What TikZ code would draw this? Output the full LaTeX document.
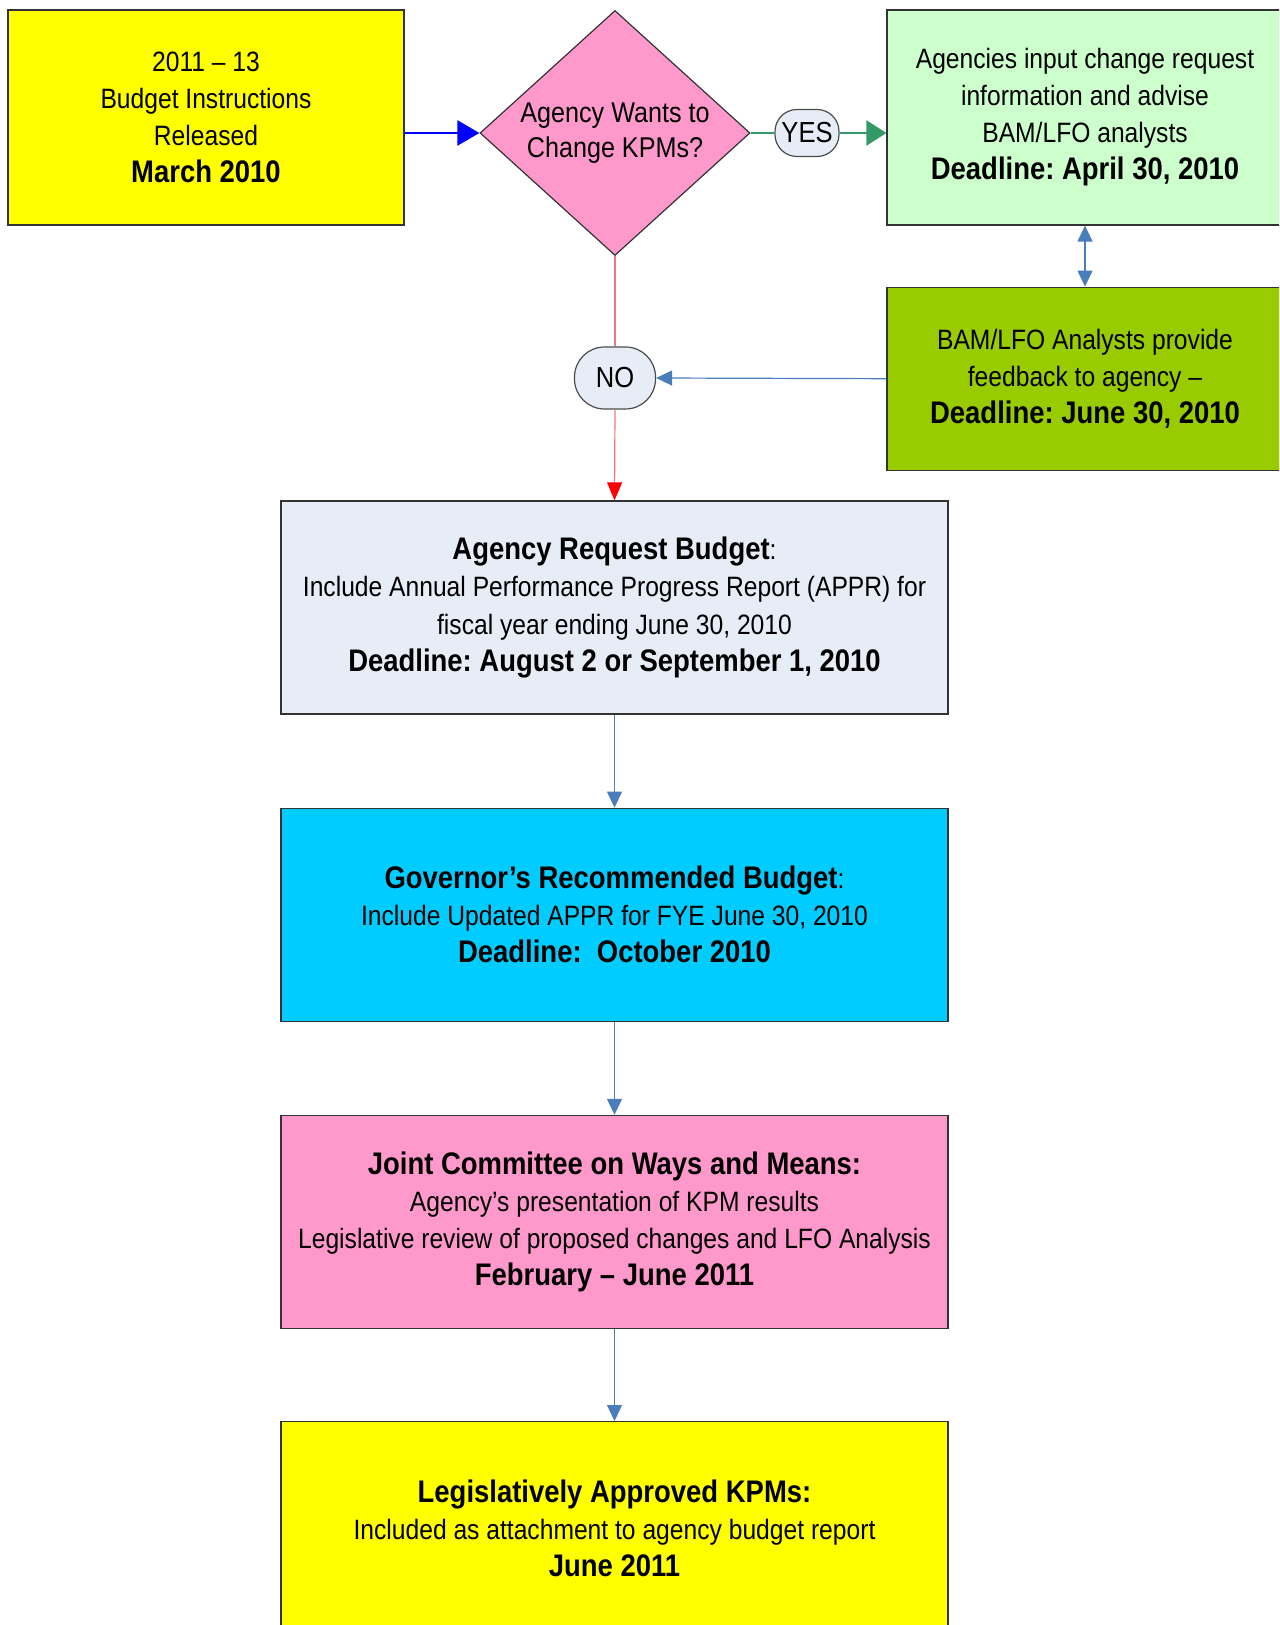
\documentclass[tikz,border=0pt]{standalone}
\usepackage{fontspec}
\setmainfont{Liberation Sans}[FakeStretch=0.88]
\usetikzlibrary{arrows.meta, positioning, shapes.geometric}
\frenchspacing

\definecolor{kpmyellow}{HTML}{FFFF00}
\definecolor{kpmpink}{HTML}{FF99CC}
\definecolor{kpmmint}{HTML}{CCFFCC}
\definecolor{kpmlime}{HTML}{99CC00}
\definecolor{kpmcyan}{HTML}{00CCFF}
\definecolor{kpmpale}{HTML}{E7EDF7}
\definecolor{kpmblue}{HTML}{4A7EBB}
\definecolor{kpmgreen}{HTML}{339966}
\definecolor{kpmsalmon}{HTML}{F07878}

\newcommand{\keyline}[1]{{\fontsize{15.6}{19}\selectfont\bfseries #1}}

\begin{document}
\begin{tikzpicture}[x=0.5pt, y=-0.5pt,
  stage/.style={rectangle, draw=black!80, line width=0.6pt, align=center,
                font=\fontsize{14}{18.5}\selectfont, inner sep=2pt},
  wide/.style={stage, minimum width=333.5pt, minimum height=106.5pt},
  side/.style={stage, minimum width=198pt, minimum height=107.5pt},
  decision/.style={diamond, draw=black!80, line width=0.6pt, fill=kpmpink, align=center,
                   font=\fontsize{14.3}{17.5}\selectfont, inner sep=0pt, shape aspect=1.15,
                   minimum width=135pt, minimum height=122.5pt},
  answer/.style={rectangle, rounded corners=11pt, draw=black!70, line width=0.6pt,
                 fill=kpmpale, font=\fontsize{14.5}{17}\selectfont, inner sep=0pt},
  flow/.style={draw=kpmblue, line width=0.6pt, -{Triangle[length=8pt, width=7.5pt]}}
]
  \clip (0,0) rectangle (1279,1625);

  % top row
  \node[side, fill=kpmyellow] (release) at (206,117.5)
    {2011 -- 13\\Budget Instructions\\Released\\\keyline{March 2010}};
  \node[decision] (decide) at (615,133) {Agency Wants to\\Change KPMs?};
  \node[answer, minimum width=32pt, minimum height=23.5pt] (yes) at (807,133) {YES};
  \node[side, fill=kpmmint] (input) at (1085,117.5)
    {Agencies input change request\\information and advise\\BAM/LFO analysts\\\keyline{Deadline: April 30, 2010}};
  \node[side, fill=kpmlime, minimum height=91.5pt, below=30.5pt of input] (feedback)
    {BAM/LFO Analysts provide\\feedback to agency --\\\keyline{Deadline: June 30, 2010}};
  \node[answer, rounded corners=15pt, minimum width=40.5pt, minimum height=31pt] (no) at (615,378) {NO};

  % main column
  \node[wide, fill=kpmpale] (request) at (614.5,607.5)
    {\keyline{Agency Request Budget}:\\Include Annual Performance Progress Report (APPR) for\\fiscal year ending June 30, 2010\\\keyline{Deadline: August 2 or September 1, 2010}};
  \node[wide, fill=kpmcyan, below=46.5pt of request] (governor)
    {\keyline{Governor’s Recommended Budget}:\\Include Updated APPR for FYE June 30, 2010\\\keyline{Deadline:\ \ October 2010}};
  \node[wide, fill=kpmpink, below=46.5pt of governor] (joint)
    {\keyline{Joint Committee on Ways and Means:}\\Agency’s presentation of KPM results\\Legislative review of proposed changes and LFO Analysis\\\keyline{February -- June 2011}};
  \node[wide, fill=kpmyellow, below=46pt of joint] (approved)
    {\keyline{Legislatively Approved KPMs:}\\Included as attachment to agency budget report\\\keyline{June 2011}};

  % connectors
  \draw[blue, line width=1.2pt, -{Triangle[length=11pt, width=12.5pt]}] (release.east |- decide.west) -- (decide.west);
  \draw[kpmgreen, line width=1.2pt] (decide.east) -- (yes.west);
  \draw[kpmgreen, line width=1.2pt, -{Triangle[length=10pt, width=12.5pt]}] (yes.east) -- (input.west |- yes.east);
  \draw[flow, {Triangle[length=8pt, width=7.5pt]}-{Triangle[length=8pt, width=7.5pt]}] (input.south) -- (feedback.north);
  \draw[flow] (feedback.west) -- (no.east);
  \draw[kpmsalmon, line width=0.6pt] (decide.south) -- (no.north);
  \draw[kpmsalmon, line width=0.6pt, -{Triangle[length=9pt, width=7.5pt, color=red]}] (no.south) -- (request.north);
  \draw[flow] (request) -- (governor);
  \draw[flow] (governor) -- (joint);
  \draw[flow] (joint) -- (approved);
\end{tikzpicture}
\end{document}
